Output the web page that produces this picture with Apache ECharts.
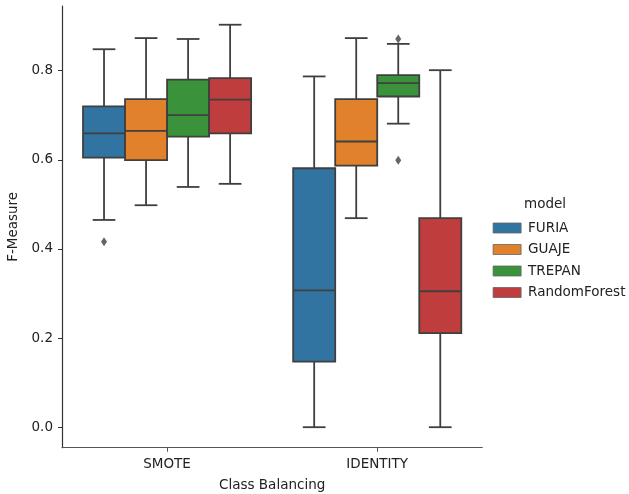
<!DOCTYPE html>
<html>
<head>
<meta charset="utf-8">
<script src="https://cdn.jsdelivr.net/npm/echarts@6/dist/echarts.min.js"></script>
<style>
html,body{margin:0;padding:0;background:#fff;}
#chart{width:629px;height:494px;}
</style>
</head>
<body>
<div id="chart"></div>
<script>
// Categories and hues
const categories = ['SMOTE', 'IDENTITY'];
const models = ['FURIA', 'GUAJE', 'TREPAN', 'RandomForest'];
const yTicks = [0.0, 0.2, 0.4, 0.6, 0.8];

// [min whisker, Q1, median, Q3, max whisker] per category
const furia = [[0.465, 0.605, 0.659, 0.720, 0.848], [0.000, 0.147, 0.307, 0.581, 0.787]];
const guaje = [[0.498, 0.599, 0.665, 0.736, 0.873], [0.469, 0.587, 0.641, 0.736, 0.873]];
const trepan = [[0.539, 0.652, 0.700, 0.780, 0.871], [0.681, 0.742, 0.772, 0.790, 0.860]];
const randomForest = [[0.546, 0.659, 0.735, 0.783, 0.903], [0.000, 0.211, 0.305, 0.469, 0.801]];

// Outliers: [category index, value]
const furiaOutliers = [[0, 0.416]];
const guajeOutliers = [];
const trepanOutliers = [[1, 0.871], [1, 0.599]];
const randomForestOutliers = [];

const colors = ['#3274a1', '#e1812c', '#3a923a', '#c03d3e'];
const LINE = '#3f3f3f';
const FONT = 'DejaVu Sans';

const boxSets = [furia, guaje, trepan, randomForest];
const outlierSets = [furiaOutliers, guajeOutliers, trepanOutliers, randomForestOutliers];
const hueWidth = 0.8 / models.length;

function hueX(ci, hi) { return ci + (hi - (models.length - 1) / 2) * hueWidth; }

function renderBox(params, api) {
  const x = api.value(0);
  const v = [1, 2, 3, 4, 5].map(i => api.value(i));
  const bw = api.size([hueWidth, 0])[0];
  const xc = api.coord([x, v[2]])[0];
  const y = val => api.coord([x, val])[1];
  const lw = 1.8;
  const cap = bw * 0.27;
  const ls = { stroke: LINE, lineWidth: lw };
  return {
    type: 'group',
    children: [
      { type: 'line', shape: { x1: xc, y1: y(v[0]), x2: xc, y2: y(v[1]) }, style: ls },
      { type: 'line', shape: { x1: xc, y1: y(v[3]), x2: xc, y2: y(v[4]) }, style: ls },
      { type: 'line', shape: { x1: xc - cap, y1: y(v[0]), x2: xc + cap, y2: y(v[0]) }, style: ls },
      { type: 'line', shape: { x1: xc - cap, y1: y(v[4]), x2: xc + cap, y2: y(v[4]) }, style: ls },
      { type: 'rect', shape: { x: xc - bw / 2, y: y(v[3]), width: bw, height: y(v[1]) - y(v[3]) },
        style: { fill: api.visual('color'), stroke: LINE, lineWidth: lw } },
      { type: 'line', shape: { x1: xc - bw / 2, y1: y(v[2]), x2: xc + bw / 2, y2: y(v[2]) }, style: ls }
    ]
  };
}

const series = [];
models.forEach((m, hi) => {
  series.push({
    name: m,
    type: 'custom',
    xAxisIndex: 1,
    yAxisIndex: 0,
    itemStyle: { color: colors[hi] },
    encode: { x: 0, y: [1, 2, 3, 4, 5] },
    data: boxSets[hi].map((b, ci) => [hueX(ci, hi)].concat(b)),
    renderItem: renderBox,
    z: 2
  });
});
models.forEach((m, hi) => {
  if (!outlierSets[hi].length) return;
  series.push({
    name: m + ' outliers',
    type: 'scatter',
    xAxisIndex: 1,
    yAxisIndex: 0,
    symbol: 'diamond',
    symbolSize: [6, 9],
    itemStyle: { color: LINE },
    data: outlierSets[hi].map(o => [hueX(o[0], hi), o[1]]),
    z: 3
  });
});

const chart = echarts.init(document.getElementById('chart'), null, { renderer: 'canvas' });
chart.setOption({
  backgroundColor: '#ffffff',
  animation: false,
  textStyle: { fontFamily: FONT },
  grid: { left: 62, right: 146.7, top: 6, bottom: 46.3, containLabel: false, outerBoundsMode: 'none' },
  xAxis: [
    {
      type: 'category',
      data: categories,
      boundaryGap: true,
      name: 'Class Balancing',
      nameLocation: 'middle',
      nameGap: 31,
      nameTextStyle: { fontFamily: FONT, fontSize: 13.5, color: '#222' },
      axisLine: { show: true, onZero: false, lineStyle: { color: '#555', width: 1.2 } },
      axisTick: { show: true, alignWithLabel: true, length: 4, lineStyle: { color: '#555', width: 1 } },
      axisLabel: { fontFamily: FONT, fontSize: 13.5, color: '#222', margin: 10 },
      splitLine: { show: false }
    },
    {
      type: 'value',
      min: -0.5,
      max: 1.5,
      show: false,
      axisLine: { onZero: false },
      splitLine: { show: false }
    }
  ],
  yAxis: [{
    type: 'value',
    min: -0.046,
    max: 0.945,
    name: 'F-Measure',
    nameLocation: 'middle',
    nameRotate: 90,
    nameGap: 37,
    nameTextStyle: { fontFamily: FONT, fontSize: 13.5, color: '#222' },
    axisLine: { show: true, onZero: false, lineStyle: { color: '#333', width: 1.2 } },
    axisTick: { show: true, length: 4, customValues: yTicks, lineStyle: { color: '#333', width: 1 } },
    axisLabel: { fontFamily: FONT, fontSize: 13.5, color: '#222', margin: 9,
      customValues: yTicks, formatter: v => v.toFixed(1) },
    splitLine: { show: false }
  }],
  legend: {
    data: models,
    orient: 'vertical',
    left: 487.7,
    top: 216,
    icon: 'rect',
    itemWidth: 28,
    itemHeight: 10,
    itemGap: 7.5,
    itemStyle: { borderColor: '#666', borderWidth: 0.8 },
    textStyle: { fontFamily: FONT, fontSize: 13.5, color: '#222', lineHeight: 14, padding: [0, 0, 0, 2] },
    selectedMode: false
  },
  graphic: [{
    type: 'text',
    x: 545,
    y: 204,
    style: { text: 'model', fontFamily: FONT, fontSize: 13.5, fill: '#222', textAlign: 'center', textVerticalAlign: 'middle' }
  }],
  series: series
});
</script>
</body>
</html>
